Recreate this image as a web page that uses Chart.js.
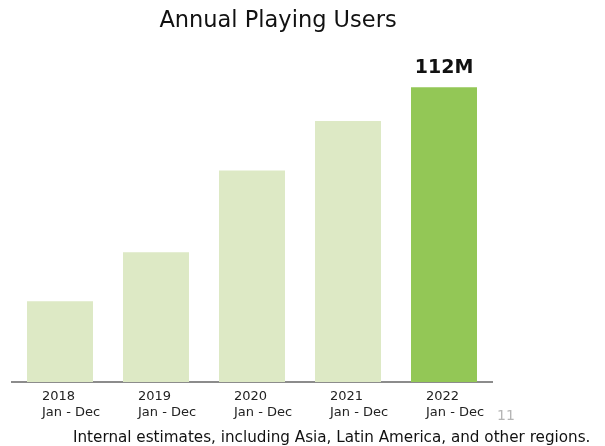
<!DOCTYPE html>
<html>
<head>
<meta charset="utf-8">
<script src="https://cdn.jsdelivr.net/npm/chart.js@4"></script>
<style>
  html, body { margin: 0; padding: 0; background: #fff; }
  #wrap { position: relative; width: 605px; height: 446px; overflow: hidden; font-family: "DejaVu Sans", sans-serif; }
  #chart { position: absolute; left: 0; top: 0; }
  .title { position: absolute; top: 6px; left: 0; width: 556px; text-align: center; font-size: 22.5px; color: #111; }
  .pageNo { position: absolute; left: 497px; top: 407px; font-size: 14px; color: #b5b5b5; }
  .note { position: absolute; left: 73px; top: 428px; font-size: 15.2px; color: #111; white-space: nowrap; }
</style>
</head>
<body>
<div id="wrap">
  <canvas id="chart" width="605" height="446"></canvas>
  <div class="title">Annual Playing Users</div>
  <div class="pageNo">11</div>
  <div class="note">Internal estimates, including Asia, Latin America, and other regions.</div>
</div>
<script>
  var years = ['2018', '2019', '2020', '2021', '2022'];
  var periods = ['Jan - Dec', 'Jan - Dec', 'Jan - Dec', 'Jan - Dec', 'Jan - Dec'];
  var users = [30.7, 49.3, 80.4, 99.2, 112];   // millions
  var valueLabels = ['', '', '', '', '112M'];

  var labels = [];
  years.forEach(function (y, i) {
    labels.push([y, periods[i]]);
  });

  var barColors = users.map(function (v, i) {
    return i === users.length - 1 ? '#93c756' : '#dde9c5';
  });

  // draws the "112M" caption over the last bar
  var valueLabelPlugin = {
    id: 'valueLabel',
    afterDatasetsDraw: function (chart) {
      var ctx = chart.ctx;
      var meta = chart.getDatasetMeta(0);
      ctx.save();
      ctx.font = 'bold 19px "DejaVu Sans"';
      ctx.fillStyle = '#111';
      ctx.textAlign = 'center';
      ctx.textBaseline = 'alphabetic';
      meta.data.forEach(function (bar, i) {
        if (valueLabels[i]) {
          ctx.fillText(valueLabels[i], bar.x, bar.y - 14);
        }
      });
      ctx.restore();
    }
  };

  var chart = new Chart(document.getElementById('chart'), {
    type: 'bar',
    data: {
      labels: labels,
      datasets: [{
        data: users,
        backgroundColor: barColors,
        borderWidth: 0,
        categoryPercentage: 1,
        barPercentage: 0.6875
      }]
    },
    options: {
      responsive: false,
      animation: false,
      layout: { padding: { left: 12, right: 113, top: 40, bottom: 0 } },
      plugins: {
        legend: { display: false },
        tooltip: { enabled: false }
      },
      scales: {
        x: {
          grid: { display: false, drawTicks: false },
          border: { display: true, color: '#8c8c8c', width: 2 },
          ticks: {
            align: 'start',
            labelOffset: -18,
            padding: 7,
            color: '#222',
            font: { family: 'DejaVu Sans', size: 13, lineHeight: 1.2 }
          },
          afterFit: function (scale) { scale.height = 64; }
        },
        y: {
          display: false,
          min: 0,
          max: 130
        }
      }
    },
    plugins: [valueLabelPlugin]
  });
</script>
</body>
</html>
